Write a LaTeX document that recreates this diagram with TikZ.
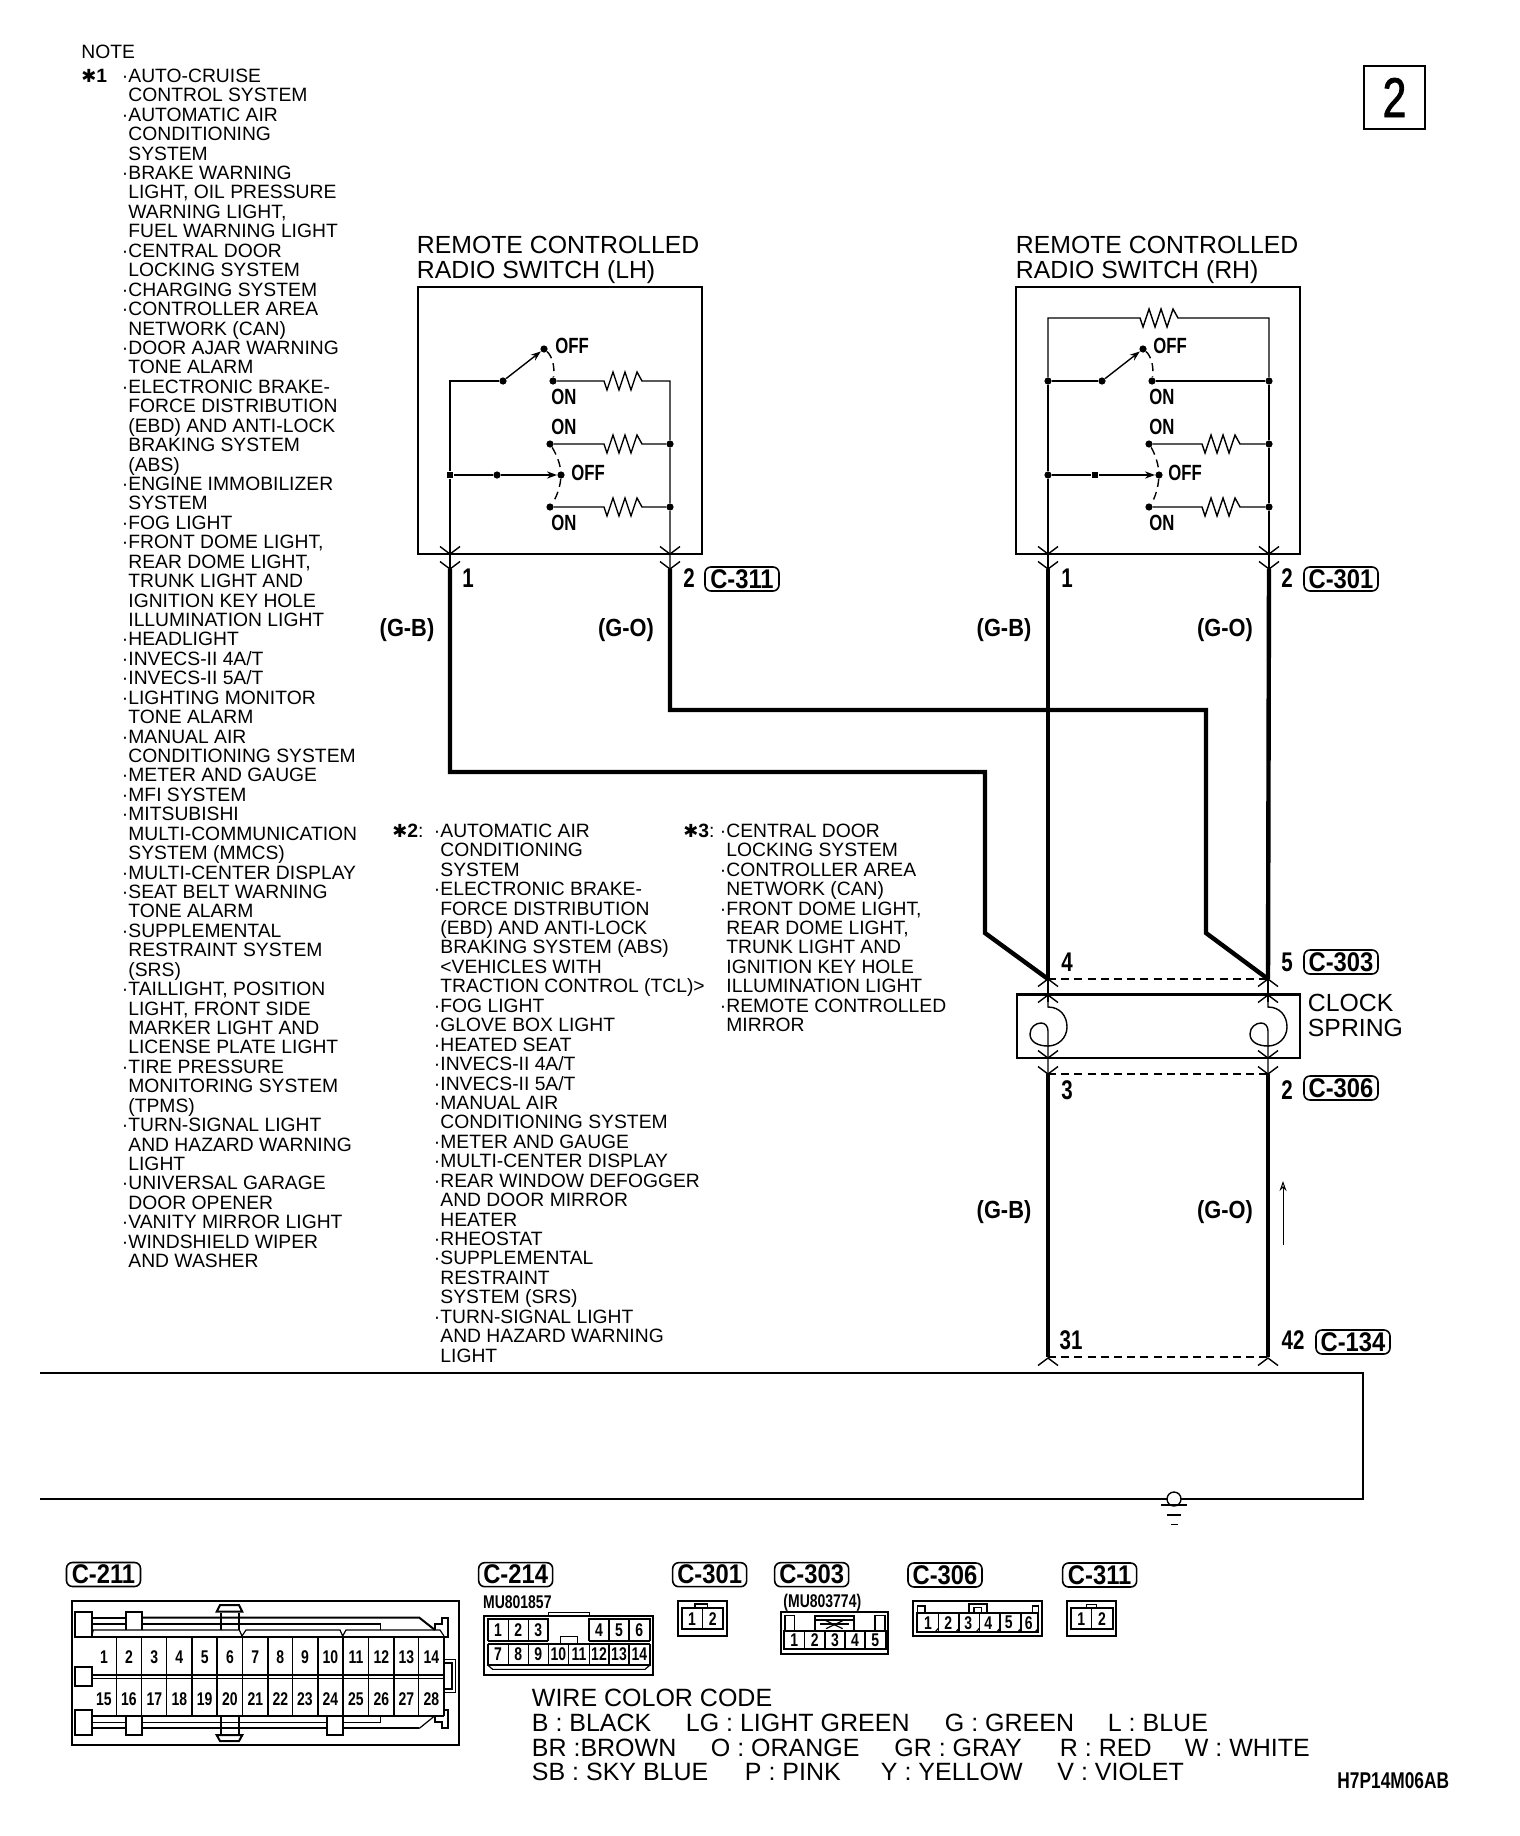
\documentclass[tikz,border=0pt]{standalone}
\usepackage{fontspec}
\usetikzlibrary{arrows.meta}
\setmainfont{Liberation Sans}
\newfontfamily\labf[FakeStretch=0.76,UprightFont=* Bold]{Liberation Sans}
\newfontfamily\bdgf[FakeStretch=0.88,UprightFont=* Bold]{Liberation Sans}
\newfontfamily\regn[FakeStretch=0.76,FakeBold=1.5]{Liberation Sans}
\newfontfamily\djvfont{DejaVu Sans}
\newcommand\B{\llap{\textperiodcentered}}
\newcommand\FR{\rule{0pt}{7pt}}
\newcommand\ResP[2]{-- (#1,#2) -- ({#1+3},{#2+9}) -- ({#1+9},{#2-9}) -- ({#1+15},{#2+9}) -- ({#1+21},{#2-9}) -- ({#1+27},{#2+9}) -- ({#1+33},{#2-9}) -- ({#1+38},#2)}
\newcommand\Vt[2]{\draw[fine] ({#1-10},{#2-7.5}) -- (#1,#2) -- ({#1+10},{#2-7.5});}
\newcommand\At[2]{\draw[fine] ({#1-10},{#2+7.5}) -- (#1,#2) -- ({#1+10},{#2+7.5});}
\newcommand\Spr[1]{\draw[fine] (#1,1002) -- (#1,1007) .. controls ({#1+12},1007) and ({#1+19},1016) .. ({#1+19},1027) .. controls ({#1+19},1038) and ({#1+10},1046) .. (#1,1046) .. controls ({#1-10},1046) and ({#1-18},1042) .. ({#1-18},1034) .. controls ({#1-18},1027) and ({#1-12},1023) .. ({#1-7},1023) .. controls ({#1-3},1023) and (#1,1026) .. (#1,1031) -- (#1,1074);}
\tikzset{
  fine/.style={line width=0.7pt},
  wire/.style={line width=2.2pt,miter limit=4},
  boxl/.style={line width=0.7pt},
  dashw/.style={line width=0.7pt,dash pattern=on 4pt off 2.6pt},
  dot/.style={circle,fill=black,inner sep=0,minimum size=3.6pt},
  sq/.style={rectangle,fill=black,inner sep=0,minimum size=3.4pt},
  lbl/.style={inner sep=0,font=\labf\fontsize{13.5}{14}\selectfont},
  gw/.style={inner sep=0,font=\bdgf\fontsize{12.4}{14}\selectfont},
  sw/.style={inner sep=0,font=\labf\fontsize{11}{12}\selectfont},
  wc/.style={inner sep=0,anchor=base west,font=\fontsize{12.5}{13}\selectfont},
  pin/.style={inner sep=0,font=\labf\fontsize{9.2}{9.5}\selectfont},
  part/.style={inner sep=0,anchor=base,font=\labf\fontsize{9.2}{10}\selectfont},
  badge/.style={draw,line width=0.8pt,rounded corners=3pt,inner sep=0,minimum width=37pt,minimum height=12pt,font=\bdgf\fontsize{13.5}{14}\selectfont},
  title/.style={inner sep=0,anchor=north west,align=left,font=\fontsize{12.4}{12.5}\selectfont},
  notes/.style={inner sep=0,anchor=north west,align=left,font=\fontsize{9.65}{9.715}\selectfont},
  note/.style={inner sep=0,anchor=base west,font=\fontsize{9.65}{9.715}\selectfont},
  arrowd/.style={-{Stealth[length=5pt,width=3.6pt]}},
  cn/.style={line width=0.6pt},
  cnb/.style={line width=1pt}
}
\begin{document}
\begin{tikzpicture}[x=0.5pt,y=-0.5pt]
\path[use as bounding box,fill=white] (0,0) rectangle (1520,1836);

% ---------- notes
\node[note] (notehead) at (81,58) {NOTE};
\node[note] (star1) at (81,82) {{\djvfont\fontsize{9}{9}\selectfont\char"2731}\textbf{1}};
\node[notes] (col1) at (128,68) {\FR\B AUTO-CRUISE\\CONTROL SYSTEM\\\B AUTOMATIC AIR\\CONDITIONING\\SYSTEM\\\B BRAKE WARNING\\LIGHT, OIL PRESSURE\\WARNING LIGHT,\\FUEL WARNING LIGHT\\\B CENTRAL DOOR\\LOCKING SYSTEM\\\B CHARGING SYSTEM\\\B CONTROLLER AREA\\NETWORK (CAN)\\\B DOOR AJAR WARNING\\TONE ALARM\\\B ELECTRONIC BRAKE-\\FORCE DISTRIBUTION\\(EBD) AND ANTI-LOCK\\BRAKING SYSTEM\\(ABS)\\\B ENGINE IMMOBILIZER\\SYSTEM\\\B FOG LIGHT\\\B FRONT DOME LIGHT,\\REAR DOME LIGHT,\\TRUNK LIGHT AND\\IGNITION KEY HOLE\\ILLUMINATION LIGHT\\\B HEADLIGHT\\\B INVECS-II 4A/T\\\B INVECS-II 5A/T\\\B LIGHTING MONITOR\\TONE ALARM\\\B MANUAL AIR\\CONDITIONING SYSTEM\\\B METER AND GAUGE\\\B MFI SYSTEM\\\B MITSUBISHI\\MULTI-COMMUNICATION\\SYSTEM (MMCS)\\\B MULTI-CENTER DISPLAY\\\B SEAT BELT WARNING\\TONE ALARM\\\B SUPPLEMENTAL\\RESTRAINT SYSTEM\\(SRS)\\\B TAILLIGHT, POSITION\\LIGHT, FRONT SIDE\\MARKER LIGHT AND\\LICENSE PLATE LIGHT\\\B TIRE PRESSURE\\MONITORING SYSTEM\\(TPMS)\\\B TURN-SIGNAL LIGHT\\AND HAZARD WARNING\\LIGHT\\\B UNIVERSAL GARAGE\\DOOR OPENER\\\B VANITY MIRROR LIGHT\\\B WINDSHIELD WIPER\\AND WASHER};
\node[note] (star2) at (392,837) {{\djvfont\fontsize{9}{9}\selectfont\char"2731}\textbf{2}:};
\node[notes] (col2) at (440,823) {\FR\B AUTOMATIC AIR\\CONDITIONING\\SYSTEM\\\B ELECTRONIC BRAKE-\\FORCE DISTRIBUTION\\(EBD) AND ANTI-LOCK\\BRAKING SYSTEM (ABS)\\<VEHICLES WITH\\TRACTION CONTROL (TCL)>\\\B FOG LIGHT\\\B GLOVE BOX LIGHT\\\B HEATED SEAT\\\B INVECS-II 4A/T\\\B INVECS-II 5A/T\\\B MANUAL AIR\\CONDITIONING SYSTEM\\\B METER AND GAUGE\\\B MULTI-CENTER DISPLAY\\\B REAR WINDOW DEFOGGER\\AND DOOR MIRROR\\HEATER\\\B RHEOSTAT\\\B SUPPLEMENTAL\\RESTRAINT\\SYSTEM (SRS)\\\B TURN-SIGNAL LIGHT\\AND HAZARD WARNING\\LIGHT};
\node[note] (star3) at (683,837) {{\djvfont\fontsize{9}{9}\selectfont\char"2731}\textbf{3}:};
\node[notes] (col3) at (726,823) {\FR\B CENTRAL DOOR\\LOCKING SYSTEM\\\B CONTROLLER AREA\\NETWORK (CAN)\\\B FRONT DOME LIGHT,\\REAR DOME LIGHT,\\TRUNK LIGHT AND\\IGNITION KEY HOLE\\ILLUMINATION LIGHT\\\B REMOTE CONTROLLED\\MIRROR};

% ---------- page number box
\node[draw,line width=1.3pt,minimum width=30.5pt,minimum height=31.5pt,inner sep=0,font=\regn\fontsize{28}{28}\selectfont] (pg) at (1394.5,97.5) {2};

% ---------- LH switch
\node[title] (ttl) at (416.5,235) {\rule{0pt}{9pt}REMOTE CONTROLLED\\RADIO SWITCH (LH)};
\node[draw,boxl,minimum width=142pt,minimum height=133.5pt,inner sep=0] (lbox) at (560,420.5) {};
\coordinate (lc) at (450,381);
\node[sq] (ls) at (450,475) {};
\coordinate (lv1) at (450,554);
\coordinate (lv2) at (450,569);
\node[dot] (lp1) at (503,381) {};
\node[dot] (loff1) at (544,349) {};
\node[dot] (lon1) at (553,381) {};
\coordinate (lrc) at (670,381);
\node[dot] (lon2) at (550,444) {};
\node[dot] (lr2) at (670,444) {};
\node[dot] (lp2) at (497,475) {};
\node[dot] (loff2) at (561,475) {};
\node[dot] (lon3) at (550,507) {};
\node[dot] (lr3) at (670,507) {};
\coordinate (rv1b) at (670,554);
\coordinate (rv2b) at (670,569);
\draw[fine] (lp1) -- (lc) -- (ls) -- (lv1) -- (lv2);
\draw[fine,arrowd] (lp1) -- (loff1);
\draw[fine] (lon1) \ResP{604}{381} -- (lrc) -- (lr2) -- (lr3) -- (rv1b) -- (rv2b);
\draw[fine] (lon2) \ResP{604}{444} -- (lr2);
\draw[fine] (lon3) \ResP{604}{507} -- (lr3);
\draw[fine] (ls) -- (lp2);
\draw[fine,arrowd] (lp2) -- (loff2);
\draw[dashw] (loff1) .. controls (552,356) and (555,366) .. (lon1);
\draw[dashw] (lon2) .. controls (555,452) and (560,462) .. (loff2);
\draw[dashw] (loff2) .. controls (560,488) and (556,498) .. (lon3);
\node[sw] (t1) at (572,346) {OFF};
\node[sw] (t2) at (564,397) {ON};
\node[sw] (t3) at (564,427) {ON};
\node[sw] (t4) at (588,473) {OFF};
\node[sw] (t5) at (564,523) {ON};
\Vt{450}{554}\Vt{450}{569}\Vt{670}{554}\Vt{670}{569}
\node[lbl] (n1) at (468,578) {1};
\node[lbl] (n2) at (689,578) {2};
\node[badge] (c311) at (742,579) {C-311};

% ---------- RH switch
\node[title] (ttr) at (1015.5,235) {\rule{0pt}{9pt}REMOTE CONTROLLED\\RADIO SWITCH (RH)};
\node[draw,boxl,minimum width=142pt,minimum height=133.5pt,inner sep=0] (rbox) at (1158,420.5) {};
\coordinate (rc1) at (1048,318);
\coordinate (rc2) at (1269,318);
\node[dot] (rj1) at (1048,381) {};
\node[dot] (rp1) at (1102,381) {};
\node[dot] (roff1) at (1143,349) {};
\node[dot] (ron1) at (1152,381) {};
\node[dot] (rr1) at (1269,381) {};
\node[dot] (ron2) at (1149,444) {};
\node[dot] (rr2) at (1269,444) {};
\node[dot] (rj2) at (1048,475) {};
\node[sq] (rp2) at (1095,475) {};
\node[dot] (roff2) at (1159,475) {};
\node[dot] (ron3) at (1149,507) {};
\node[dot] (rr3) at (1269,507) {};
\coordinate (a1) at (1048,554);
\coordinate (a2) at (1048,569);
\coordinate (b1) at (1269,554);
\coordinate (b2) at (1269,569);
\draw[fine] (rj1) -- (rc1) \ResP{1140}{318} -- (rc2) -- (rr1);
\draw[fine] (rj1) -- (rj2) -- (a1) -- (a2);
\draw[fine] (rr1) -- (rr2) -- (rr3) -- (b1) -- (b2);
\draw[fine] (rj1) -- (rp1);
\draw[fine,arrowd] (rp1) -- (roff1);
\draw[fine] (ron1) -- (rr1);
\draw[fine] (ron2) \ResP{1202}{444} -- (rr2);
\draw[fine] (ron3) \ResP{1202}{507} -- (rr3);
\draw[fine] (rj2) -- (rp2);
\draw[fine,arrowd] (rp2) -- (roff2);
\draw[dashw] (roff1) .. controls (1151,356) and (1154,366) .. (ron1);
\draw[dashw] (ron2) .. controls (1154,452) and (1158,462) .. (roff2);
\draw[dashw] (roff2) .. controls (1158,488) and (1155,498) .. (ron3);
\node[sw] (u1) at (1170,346) {OFF};
\node[sw] (u2) at (1162,397) {ON};
\node[sw] (u3) at (1162,427) {ON};
\node[sw] (u4) at (1185,473) {OFF};
\node[sw] (u5) at (1162,523) {ON};
\Vt{1048}{554}\Vt{1048}{569}\Vt{1269}{554}\Vt{1269}{569}
\node[lbl] (n3) at (1067,578) {1};
\node[lbl] (n4) at (1287,578) {2};
\node[badge] (c301) at (1341,579) {C-301};

% ---------- thick wires
\coordinate (w1) at (450,772);
\coordinate (w2) at (985,772);
\coordinate (w3) at (985,933);
\coordinate (top1) at (1048,979);
\coordinate (w4) at (670,710);
\coordinate (w5) at (1206,710);
\coordinate (w6) at (1206,933);
\coordinate (top2) at (1268,979);
\draw[wire] (lv2) -- (w1) -- (w2) -- (w3) -- (top1);
\draw[wire] (rv2b) -- (w4) -- (w5) -- (w6) -- (top2);
\draw[wire] (a2) -- (top1);
\draw[wire] (b2) -- (top2);
\node[gw] (g1) at (407,630) {(G-B)};
\node[gw] (g2) at (626,630) {(G-O)};
\node[gw] (g3) at (1004,630) {(G-B)};
\node[gw] (g4) at (1225,630) {(G-O)};

% ---------- clock spring
\node[draw,boxl,minimum width=141.5pt,minimum height=31.5pt,inner sep=0] (cs) at (1158.5,1026.5) {};
\draw[boxl,line width=1pt] (cs.north west) -- (cs.north east);
\coordinate (bot1) at (1048,1074);
\coordinate (bot2) at (1268,1074);
\coordinate (end1) at (1048,1357);
\coordinate (end2) at (1268,1357);
\draw[dashw] (top1) -- (top2);
\draw[dashw] (bot1) -- (bot2);
\draw[dashw] (end1) -- (end2);
\draw[fine] (top1) -- (1048,1002);
\draw[fine] (top2) -- (1268,1002);
\Spr{1048}\Spr{1268}
\At{1048}{979}\At{1268}{979}\At{1048}{995}\At{1268}{995}
\Vt{1048}{1058}\Vt{1268}{1058}\Vt{1048}{1074}\Vt{1268}{1074}
\At{1048}{1358}\At{1268}{1358}
\draw[wire] (bot1) -- (end1);
\draw[wire,line width=2.4pt] (bot2) -- (end2);
\node[lbl] (n5) at (1067,962) {4};
\node[lbl] (n6) at (1287,962) {5};
\node[badge] (c303) at (1341,962) {C-303};
\node[inner sep=0,anchor=base west,font=\fontsize{12.4}{13}\selectfont] (ck1) at (1307.5,1011) {CLOCK};
\node[inner sep=0,anchor=base west,font=\fontsize{12.4}{13}\selectfont] (ck2) at (1307.5,1036) {SPRING};
\node[lbl] (n7) at (1067,1090) {3};
\node[lbl] (n8) at (1287,1090) {2};
\node[badge] (c306) at (1341,1088) {C-306};
\node[gw] (g5) at (1004,1212) {(G-B)};
\node[gw] (g6) at (1225,1212) {(G-O)};
\coordinate (ar1) at (1283,1245);
\coordinate (ar2) at (1283,1181);
\draw[line width=0.5pt,-{Stealth[length=5pt,width=3.5pt,open]}] (ar1) -- (ar2);
\node[lbl] (n9) at (1071,1340) {31};
\node[lbl] (n10) at (1293,1340) {42};
\node[badge] (c134) at (1353,1342) {C-134};

% ---------- bus and ground
\coordinate (bus1) at (40,1373);
\coordinate (bus2) at (1363,1373);
\coordinate (bus3) at (1363,1499);
\coordinate (bus4) at (40,1499);
\draw[line width=0.8pt] (bus1) -- (bus2) -- (bus3) -- (bus4);
\node[draw,fill=white,circle,line width=0.7pt,inner sep=0,minimum size=7pt] (gnd) at (1174,1499) {};
\draw[line width=0.8pt] (1161,1505) -- (1187,1505);
\draw[line width=0.8pt] (1167,1515) -- (1181,1515);
\draw[line width=0.5pt] (1171,1524) -- (1178,1524);

% ---------- C-211
\node[badge] (c211) at (103.5,1574.5) {C-211};
\begin{scope}[shift={(40,1550)},scale=1/3]
\draw[cnb] (95,152) rectangle (1258,585);
\draw[cnb] (105,185) rectangle (155,260);
\draw[cnb] (105,350) rectangle (155,407);
\draw[cnb] (105,480) rectangle (155,555);
\draw[cnb] (258,240) -- (258,185) -- (305,185) -- (305,240);
\draw[cnb] (258,497) -- (258,555) -- (305,555) -- (305,497);
\draw[cnb] (860,497) -- (860,555) -- (910,555) -- (910,497);
\draw[cnb] (530,185) -- (540,165) -- (597,165) -- (607,185) -- cycle;
\draw[cn] (543,188) -- (543,240);
\draw[cn] (597,188) -- (597,240);
\draw[cnb] (530,555) -- (607,555) -- (597,573) -- (540,573) -- cycle;
\draw[cn] (543,497) -- (543,553);
\draw[cn] (597,497) -- (597,553);
\draw[cnb] (155,203) -- (258,203);
\draw[cnb] (305,203) -- (1138,203) -- (1185,240);
\draw[cn] (155,222) -- (258,222);
\draw[cn] (305,222) -- (1022,222) -- (1022,240);
\draw[cn] (155,258) -- (160,240) -- (598,240) -- (606,258) -- (618,240) -- (900,240) -- (908,258) -- (918,240) -- (1200,240) -- (1212,258);
\draw[cnb] (155,260) -- (1212,260);
\draw[cn] (155,375) -- (1212,375);
\draw[cn] (155,385) -- (1212,385);
\draw[cnb] (155,497) -- (1212,497);
\foreach \xx in {230,305,380,608,758,986,1136}{\draw[cn] (\xx,260) -- (\xx,497);}
\foreach \xx in {457,532,684,833,910,1062,1212}{\draw[cnb] (\xx,260) -- (\xx,497);}
\draw[cn] (305,517) -- (860,517);
\draw[cn] (910,517) -- (1022,517) -- (1022,497);
\draw[cn] (155,517) -- (258,517);
\draw[cnb] (155,535) -- (258,535);
\draw[cnb] (305,535) -- (860,535);
\draw[cnb] (910,535) -- (1138,535);
\draw[cn] (1138,535) -- (1185,497);
\draw[cnb] (1185,240) -- (1185,222) -- (1205,222) -- (1205,205) -- (1225,205) -- (1225,260) -- (1212,260);
\draw[cnb] (1185,497) -- (1185,517) -- (1205,517) -- (1205,535) -- (1225,535) -- (1225,480) -- (1212,480);
\draw[cn] (1212,328) -- (1247,328) -- (1247,428) -- (1212,428);
\draw[cnb] (1212,340) -- (1237,340) -- (1237,418) -- (1212,418);
\foreach \n/\xx in {1/192,2/267,3/343,4/418,5/494,6/570,7/646,8/721,9/795,10/871,11/948,12/1024,13/1099,14/1174}{\node[pin] (pa\n) at (\xx,322) {\n};}
\foreach \n/\xx in {15/192,16/267,17/343,18/418,19/494,20/570,21/646,22/721,23/795,24/871,25/948,26/1024,27/1099,28/1174}{\node[pin] (pa\n) at (\xx,447) {\n};}
\end{scope}

% ---------- C-214, C-301, C-303
\begin{scope}[shift={(460,1550)},scale=1/3]
\node[badge] (c214) at (167,74) {C-214};
\node[part] (m1) at (172,175) {MU801857};
\draw[cnb] (73,197) rectangle (580,375);
\draw[cn] (265,197) -- (265,187) -- (388,187) -- (388,197);
\draw[cnb] (83,272) -- (83,207) -- (265,207) -- (265,272);
\draw[cnb] (388,272) -- (388,207) -- (570,207) -- (570,272);
\draw[cnb] (83,272) -- (265,272);
\draw[cnb] (388,272) -- (570,272);
\draw[cnb] (83,282) -- (570,282);
\draw[cnb] (83,282) -- (83,345) -- (570,345) -- (570,282);
\draw[cn] (302,282) -- (302,260) -- (352,260) -- (352,282);
\foreach \xx in {145,205,447,507}{\draw[cn] (\xx,207) -- (\xx,272);}
\foreach \xx in {145,205,265,326,388,447,507}{\draw[cn] (\xx,282) -- (\xx,345);}
\draw[cn] (83,345) -- (98,358) -- (555,358) -- (570,345);
\foreach \n/\xx in {1/114,2/175,3/235,4/417,5/477,6/538}{\node[pin] (pb\n) at (\xx,240) {\n};}
\foreach \n/\xx in {7/114,8/175,9/235,10/295,11/357,12/417,13/477,14/538}{\node[pin] (pb\n) at (\xx,313) {\n};}
\node[badge] (c301b) at (749,74) {C-301};
\draw[cnb] (655,152) rectangle (800,258);
\draw[cnb] (665,175) rectangle (790,237);
\draw[cn] (727,175) -- (727,237);
\draw[cn] (705,175) -- (705,162) -- (742,162) -- (742,175);
\node[pin] (pc1) at (696,206) {1};
\node[pin] (pc2) at (758,206) {2};
\node[badge] (c303b) at (1055,74) {C-303};
\node[part] (m2) at (1087,172) {(MU803774)};
\draw[cnb] (962,187) rectangle (1285,312);
\draw[cnb] (973,243) rectangle (1277,297);
\foreach \xx in {1033,1095,1155,1215}{\draw[cn] (\xx,243) -- (\xx,297);}
\draw[cn] (975,243) -- (975,197) -- (1003,197) -- (1003,243);
\draw[cn] (1245,243) -- (1245,197) -- (1275,197) -- (1275,243);
\draw[cnb] (1065,243) -- (1065,197) -- (1183,197) -- (1183,243);
\draw[cn] (1065,210) -- (1183,210);
\draw[cn] (1080,222) -- (1168,222);
\draw[cn] (1098,236) -- (1148,212);
\draw[cn] (1098,212) -- (1148,236);
\foreach \n/\xx in {1/1003,2/1064,3/1125,4/1185,5/1246}{\node[pin] (pd\n) at (\xx,270) {\n};}
\end{scope}

% ---------- C-306, C-311
\begin{scope}[shift={(880,1550)},scale=1/3]
\node[badge] (c306b) at (195,75) {C-306};
\draw[cnb] (100,152) rectangle (487,258);
\draw[cnb] (112,245) -- (112,190) -- (475,190) -- (475,245) -- cycle;
\foreach \xx in {175,237,298,360,423}{\draw[cn] (\xx,190) -- (\xx,245);}
\foreach \xx in {175,237,298,360,423,475}{\draw[cn] ({\xx-9},245) -- (\xx,235);}
\draw[cn] (112,190) -- (112,168) -- (135,168) -- (135,190);
\draw[cn] (457,190) -- (457,168) -- (475,168) -- (475,190);
\draw[cnb] (268,190) -- (268,163) -- (320,163) -- (320,190);
\draw[cn] (282,190) -- (282,172) -- (305,172) -- (305,190);
\foreach \n/\xx in {1/144,2/205,3/265,4/325,5/386,6/446}{\node[pin] (pe\n) at (\xx,218) {\n};}
\node[badge] (c311b) at (659,75) {C-311};
\draw[cnb] (562,152) rectangle (708,258);
\draw[cnb] (572,175) rectangle (698,237);
\draw[cn] (635,175) -- (635,237);
\draw[cn] (620,175) -- (620,163) -- (650,163) -- (650,175);
\node[pin] (pf1) at (604,206) {1};
\node[pin] (pf2) at (666,206) {2};
\end{scope}

% ---------- wire colour code
\node[wc] (w0) at (531.5,1706) {WIRE COLOR CODE};
\node[wc] (w11) at (531.5,1731) {B : BLACK};
\node[wc] (w12) at (685.5,1731) {LG : LIGHT GREEN};
\node[wc] (w13) at (944.5,1731) {G : GREEN};
\node[wc] (w14) at (1107.5,1731) {L : BLUE};
\node[wc] (w21) at (531.5,1756) {BR :BROWN};
\node[wc] (w22) at (710.5,1756) {O : ORANGE};
\node[wc] (w23) at (894,1756) {GR : GRAY};
\node[wc] (w24) at (1059.5,1756) {R : RED};
\node[wc] (w25) at (1184.5,1756) {W : WHITE};
\node[wc] (w31) at (531.5,1780) {SB : SKY BLUE};
\node[wc] (w32) at (744.5,1780) {P : PINK};
\node[wc] (w33) at (880.5,1780) {Y : YELLOW};
\node[wc] (w34) at (1057,1780) {V : VIOLET};
\node[inner sep=0,anchor=base west,font=\labf\fontsize{11.4}{12}\selectfont] (code) at (1337,1788) {H7P14M06AB};
\end{tikzpicture}
\end{document}
